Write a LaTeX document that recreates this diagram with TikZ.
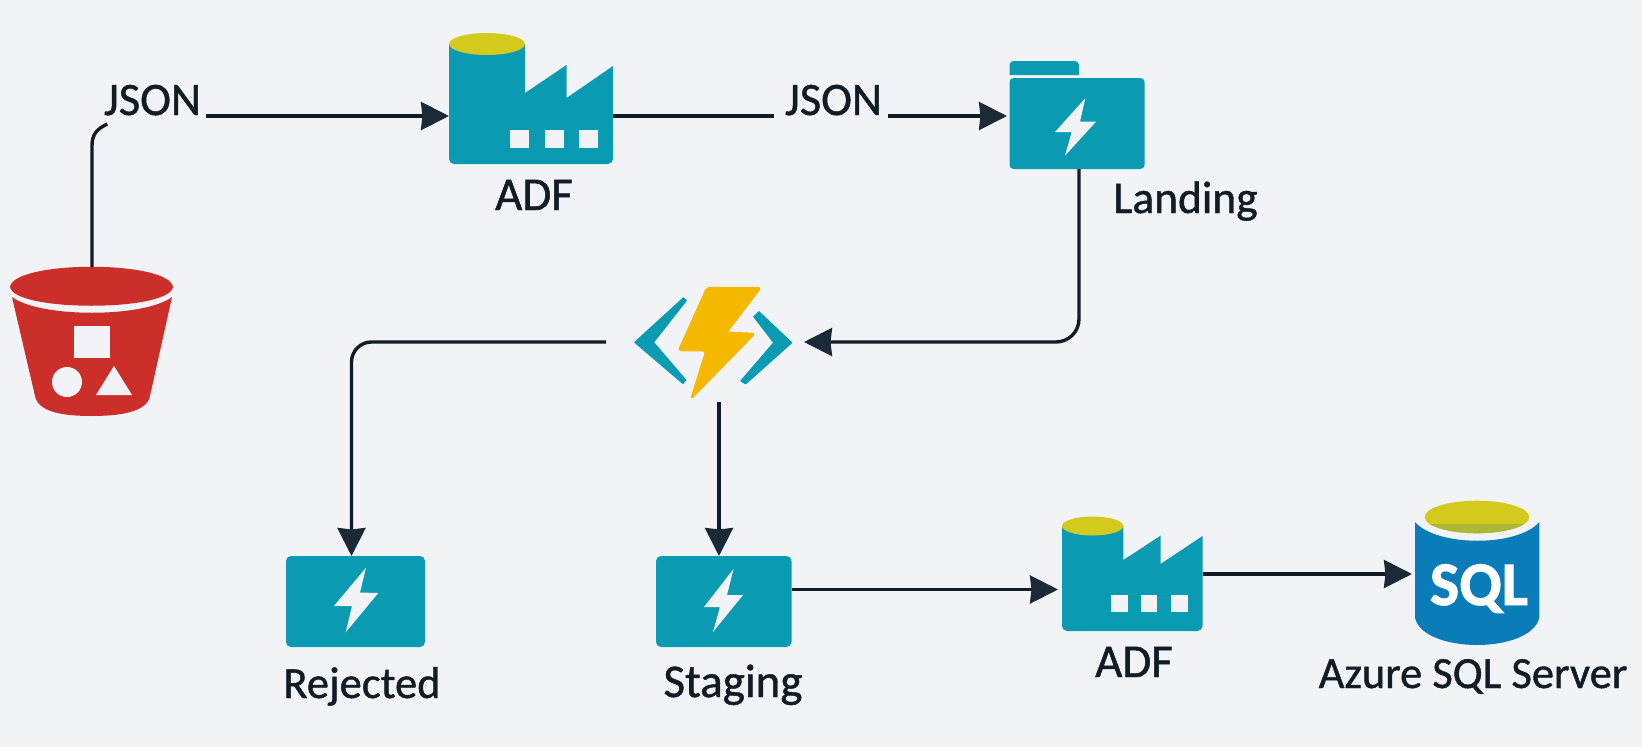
\documentclass[tikz,border=0pt]{standalone}
\usepackage{fontspec}
\setmainfont{Carlito}
\newfontfamily\labfont[FakeBold=1.0]{Carlito}
\newfontfamily\sqlfont[FakeBold=1.5]{Carlito Bold}
\usetikzlibrary{arrows.meta}
\definecolor{bgc}{HTML}{F2F3F6}
\definecolor{teal}{HTML}{0A9BB3}
\definecolor{olive}{HTML}{D4CA1E}
\definecolor{oliveb}{HTML}{A9B935}
\definecolor{redb}{HTML}{CC2E2A}
\definecolor{sqlb}{HTML}{0A7CB8}
\definecolor{gold}{HTML}{F5B800}
\definecolor{ink}{HTML}{111C24}
\definecolor{tipc}{HTML}{1A2A36}
\tikzset{
  x=1pt,y=-1pt,
  icon/.style={inner sep=0pt,outer sep=0pt,minimum width=#1},
  store/.style={inner sep=0pt,outer sep=0pt,fill=teal,rounded corners=5pt,minimum width=#1,minimum height=91pt},
  lab/.style={inner sep=0pt,outer sep=0pt,anchor=base,text=ink,font=\labfont\fontsize{#1}{46}\selectfont},
  flow/.style={draw=ink,line width=3.4pt,-{Stealth[length=28pt,width=28pt,inset=1.5pt,color=tipc]}},
  plain/.style={draw=ink,line width=3.4pt},
  bolt/.style={fill=bgc},
}
\begin{document}
\begin{tikzpicture}
\useasboundingbox (0,0) rectangle (1642,747);
\fill[bgc] (0,0) rectangle (1642,747);

% --- bucket
\node[icon=163pt,minimum height=148pt] (bucket) at (91.5,341) {};
\fill[redb] (10,287) .. controls (14,260) and (169,260) .. (173,287)
  .. controls (169,312) and (14,312) .. cycle;
\fill[redb] (12,297) .. controls (40,318) and (144,318) .. (172,297) -- (150,396)
  .. controls (147,412) and (120,416) .. (91.5,416) .. controls (63,416) and (38,412) .. (35,396) -- cycle;
\fill[bgc] (74,326) rectangle (110,358);
\fill[bgc] (67,382) circle [radius=15pt];
\fill[bgc] (114,366) -- (132,395) -- (96,395) -- cycle;

% --- first ADF
\node[icon=164pt,minimum height=131pt] (adfa) at (531,98.5) {};
\fill[teal] (449,44) [rounded corners=5pt] -- (449,164) -- (613,164) [sharp corners] -- (613,66)
  -- (566.5,98) -- (566.5,65) -- (525,93) -- (525,44) -- cycle;
\fill[olive] (487,44) ellipse [x radius=38pt,y radius=11pt];
\fill[bgc] (510,130) rectangle (529,148);
\fill[bgc] (545,130) rectangle (564,148);
\fill[bgc] (578.5,130) rectangle (598,148);

% --- landing folder
\node[icon=135pt,minimum height=108pt] (landing) at (1077,115) {};
\fill[teal] (1009.5,75) [rounded corners=4pt] -- (1009.5,61) -- (1079,61) [sharp corners] -- (1079,75) -- cycle;
\fill[teal,rounded corners=4pt] (1009.5,78) rectangle (1144.5,169);
\fill[bolt] (1085.3,98.3) -- (1055,132) -- (1071.7,132) -- (1065,155.7) -- (1096,121.7) -- (1080,121.7) -- cycle;

% --- functions
\node[icon=158pt,minimum height=113pt] (func) at (713,343) {};
\filldraw[teal,line width=1.5pt,line join=round] (683.6,298) -- (686,300.7) -- (653.3,342.3) -- (685.5,380) -- (683,383.3) -- (635,342.3) -- cycle;
\filldraw[teal,line width=1.5pt,line join=round] (759,312) -- (791.5,342.7) -- (745.7,383.6) -- (741,381) -- (774,342.7) -- (754,316.7) -- cycle;
\filldraw[gold,line width=1.5pt,line join=round,rounded corners=3pt] (707,287.5) -- (761,287.5) -- (726.7,332.5) -- (755,333.5)
  -- (691,399) -- (706,350.5) -- (678.5,350.5) -- cycle;

% --- rejected and staging stores
\node[store=139pt] (rejected) at (355.5,601.5) {};
\fill[bolt] (366,567.7) -- (334,606) -- (352,606) -- (345.7,632.3) -- (378.3,593) -- (360,592.5) -- cycle;
\node[store=135.5pt] (staging) at (723.75,601.5) {};
\fill[bolt] (733.5,569) -- (704,607) -- (720,607) -- (713,632) -- (743,595) -- (727,595) -- cycle;

% --- second ADF
\node[icon=140.5pt,minimum height=114.5pt] (adfb) at (1132.25,573.75) {};
\fill[teal] (1062,526) [rounded corners=5pt] -- (1062,631) -- (1202.5,631) [sharp corners] -- (1202.5,536)
  -- (1160.5,564) -- (1160.5,535.7) -- (1123.4,560) -- (1123.4,526) -- cycle;
\fill[olive] (1092.7,526) ellipse [x radius=30.7pt,y radius=9.5pt];
\fill[bgc] (1111,595) rectangle (1128,611.7);
\fill[bgc] (1140.6,595) rectangle (1157.4,611.7);
\fill[bgc] (1170.6,595) rectangle (1188.3,611.7);

% --- SQL
\node[icon=124.4pt,minimum height=143pt] (sql) at (1477.2,572.5) {};
\fill[sqlb] (1415,522) .. controls (1437,547) and (1518,547) .. (1539.3,522) -- (1539.3,618)
  .. controls (1530,654) and (1424,654) .. (1415,618) -- cycle;
\fill[olive] (1477,517) ellipse [x radius=52.3pt,y radius=16.3pt];
\begin{scope}
  \clip (1420,524.5) rectangle (1535,540);
  \fill[oliveb] (1477,517) ellipse [x radius=52.3pt,y radius=16.3pt];
\end{scope}
\node[inner sep=0pt,anchor=base,text=white,font=\sqlfont\fontsize{62}{66}\selectfont] (sqltext) at (1479,605) {SQL};

% --- labels
\node[lab=46.5] (jsona) at (152.5,115) {JSON};
\node[lab=46.5] (jsonb) at (833.5,115) {JSON};
\node[lab=47] (adfalab) at (534,210) {ADF};
\node[lab=45.5] (landlab) at (1185.5,213) {Landing};
\node[lab=44.5] (rejlab) at (362,698) {Rejected};
\node[lab=47] (stalab) at (733,697) {Staging};
\node[lab=47] (adfblab) at (1134,677) {ADF};
\node[lab=44.5] (sqllab) at (1473,688) {Azure SQL Server};

% --- connectors
\coordinate (jsonfoot) at (107.3,124);
\draw[plain] (bucket.north) ++(0.5,0) -- (92,146) .. controls (92,134) and (97,129) .. (jsonfoot);
\draw[flow] ([xshift=5pt,yshift=-1pt]jsona.base east) -- ([yshift=-17.5pt]adfa.west);
\draw[plain] ([yshift=-17.5pt]adfa.east) -- ([xshift=-11pt,yshift=-1pt]jsonb.base west);
\draw[flow] ([xshift=6pt,yshift=-1pt]jsonb.base east) -- ([xshift=-2.5pt,yshift=-1pt]landing.west);
\draw[flow,rounded corners=23pt] ([xshift=2pt]landing.south) |- ([xshift=12pt,yshift=1pt]func.east);
\draw[flow,rounded corners=20pt] ([xshift=-28pt,yshift=1pt]func.west) -| ([xshift=-4pt]rejected.north);
\draw[flow] ([xshift=6pt,yshift=-2pt]func.south) -- ([xshift=-4.75pt]staging.north);
\draw[flow] ([yshift=12pt]staging.east) -- ([xshift=-4pt,yshift=-15.75pt]adfb.west);
\draw[flow] ([yshift=-0.25pt]adfb.east) -- ([xshift=-3pt,yshift=-1.5pt]sql.west);
\end{tikzpicture}
\end{document}
